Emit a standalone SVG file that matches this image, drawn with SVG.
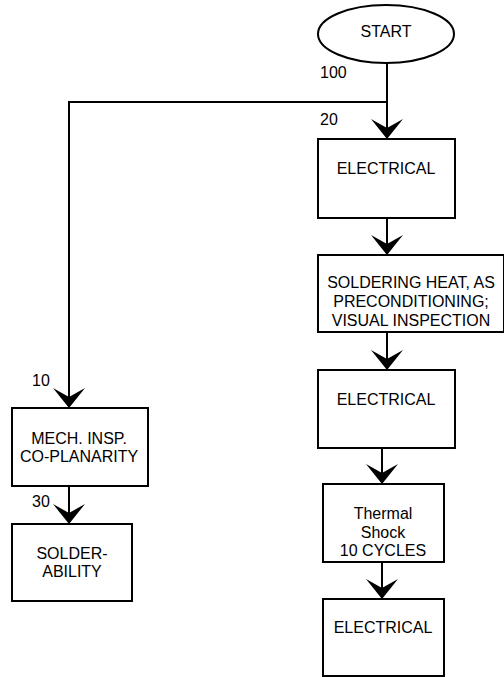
<svg xmlns="http://www.w3.org/2000/svg" width="504" height="677" viewBox="0 0 504 677">
<style>
.box{fill:#fff;stroke:#000;stroke-width:2}
.ln{fill:none;stroke:#000;stroke-width:2;marker-end:url(#ah)}
text{font-family:"Liberation Sans",Arial,sans-serif;font-size:16px;fill:#000}
.c{text-anchor:middle}
</style>
<defs>
<marker id="ah" viewBox="-21 -17 22 34" refX="0" refY="0" markerWidth="22" markerHeight="34" markerUnits="userSpaceOnUse" orient="auto">
<path d="M0,0 L-20,-16 L-11,0 L-20,16 Z" fill="#000"/>
</marker>
</defs>
<g id="connectors">
<path class="ln" d="M387,63 V139"/>
<path class="ln" d="M387,102 H69 V408"/>
<path class="ln" d="M387,218 V255"/>
<path class="ln" d="M387,332 V370"/>
<path class="ln" d="M382,448 V484"/>
<path class="ln" d="M382,562 V599"/>
<path class="ln" d="M69,486 V524"/>
<text x="320" y="78">100</text>
<text x="320" y="125">20</text>
<text x="32" y="386">10</text>
<text x="32" y="507">30</text>
</g>
<g id="start">
<ellipse class="box" cx="386" cy="34" rx="68" ry="29"/>
<text class="c" x="386" y="37">START</text>
</g>
<g id="electrical1">
<rect class="box" x="318" y="139" width="137" height="79"/>
<text class="c" x="386" y="174">ELECTRICAL</text>
</g>
<g id="soldering">
<rect class="box" x="318" y="255" width="186" height="77"/>
<text class="c" x="411" y="288">SOLDERING HEAT, AS</text>
<text class="c" x="411" y="307">PRECONDITIONING;</text>
<text class="c" x="411" y="326">VISUAL INSPECTION</text>
</g>
<g id="electrical2">
<rect class="box" x="318" y="370" width="137" height="78"/>
<text class="c" x="386" y="405">ELECTRICAL</text>
</g>
<g id="thermal">
<rect class="box" x="323" y="484" width="121" height="78"/>
<text class="c" x="383" y="519">Thermal</text>
<text class="c" x="383" y="538">Shock</text>
<text class="c" x="383" y="556">10 CYCLES</text>
</g>
<g id="electrical3">
<rect class="box" x="323" y="599" width="121" height="77"/>
<text class="c" x="383" y="633">ELECTRICAL</text>
</g>
<g id="mech">
<rect class="box" x="12" y="408" width="136" height="78"/>
<text class="c" x="79" y="444">MECH. INSP.</text>
<text class="c" x="79" y="462">CO-PLANARITY</text>
</g>
<g id="solder">
<rect class="box" x="12" y="524" width="120" height="77"/>
<text class="c" x="72" y="559">SOLDER-</text>
<text class="c" x="72" y="577">ABILITY</text>
</g>
</svg>
